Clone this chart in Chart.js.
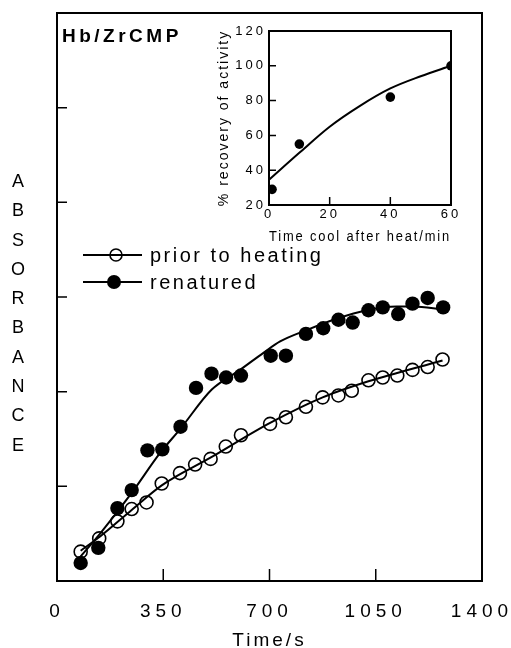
<!DOCTYPE html>
<html>
<head>
<meta charset="utf-8">
<script src="https://cdn.jsdelivr.net/npm/chart.js@4.4.1/dist/chart.umd.min.js"></script>
<style>
  html, body { margin: 0; padding: 0; background: #fff; }
  #wrap { position: relative; width: 511px; height: 648px; }
  #mainChart { position: absolute; left: 0; top: 0; }
  #insetChart { position: absolute; left: 200px; top: 12px; }
</style>
</head>
<body>
<div id="wrap">
  <canvas id="mainChart" width="511" height="648"></canvas>
  <canvas id="insetChart" width="260" height="240"></canvas>
</div>
<script>
// main panel: absorbance vs time (s)
const priorTime = [78, 139, 199, 246, 295, 345, 405, 455, 506, 556, 606, 702, 754, 820, 875, 927, 971, 1026, 1073, 1121, 1171, 1221, 1270];
const priorAbs = [0.31, 0.45, 0.63, 0.76, 0.83, 1.03, 1.14, 1.23, 1.29, 1.42, 1.54, 1.66, 1.73, 1.84, 1.94, 1.96, 2.01, 2.12, 2.15, 2.17, 2.23, 2.26, 2.34];
const renTime = [78, 136, 199, 246, 298, 347, 407, 458, 509, 557, 606, 704, 754, 820, 877, 927, 974, 1026, 1073, 1124, 1171, 1221, 1272];
const renAbs = [0.19, 0.35, 0.77, 0.96, 1.38, 1.39, 1.63, 2.04, 2.19, 2.15, 2.17, 2.38, 2.38, 2.61, 2.67, 2.76, 2.73, 2.86, 2.89, 2.82, 2.93, 2.99, 2.89];

// fitted curves
const priorFitTime = [78, 142, 246, 345, 504, 702, 875, 1026, 1270];
const priorFitAbs = [0.32, 0.47, 0.75, 1.01, 1.30, 1.67, 1.94, 2.11, 2.33];
const renFitTime = [78, 142, 246, 339, 407, 509, 603, 680, 735, 822, 921, 1020, 1119, 1174, 1272];
const renFitAbs = [0.26, 0.50, 0.93, 1.35, 1.61, 2.02, 2.23, 2.41, 2.53, 2.65, 2.77, 2.86, 2.90, 2.90, 2.87];

const xTicks = [0, 350, 700, 1050, 1400];
const yTitleLetters = ['A', 'B', 'S', 'O', 'R', 'B', 'A', 'N', 'C', 'E'];

// inset: % recovery vs cooling time (min)
const coolMin = [1, 10, 40, 60];
const recovery = [29, 55, 82, 100];
const coolFitMin = [0, 10, 20, 30, 40, 50, 60];
const recoveryFit = [34.5, 50, 65, 77, 87, 94, 100];

const FONT = "'Liberation Sans', Arial, sans-serif";
const toPoints = (xs, ys) => xs.map((x, i) => ({ x: x, y: ys[i] }));
const plainLabel = v => String(v);

// frame + inward tick marks + letter spacing for axis texts
const framePlugin = {
    id: 'frame',
    beforeDraw(chart, args, opts) {
        chart.ctx.letterSpacing = opts.titleSpacing;
    },
    afterDatasetsDraw(chart, args, opts) {
        chart.ctx.letterSpacing = opts.tickSpacing;
    },
    afterDraw(chart, args, opts) {
        const { ctx, chartArea: a, scales } = chart;
        ctx.save();
        ctx.letterSpacing = '0px';
        ctx.strokeStyle = '#000';
        ctx.lineWidth = 2;
        ctx.strokeRect(a.left, a.top, a.right - a.left, a.bottom - a.top);
        ctx.lineWidth = 1.5;
        ctx.beginPath();
        scales.x.ticks.forEach(t => {
            if (t.value <= scales.x.min || t.value >= scales.x.max) return;
            const px = scales.x.getPixelForValue(t.value);
            ctx.moveTo(px, a.bottom);
            ctx.lineTo(px, a.bottom - opts.xTickLen);
        });
        scales.y.ticks.forEach(t => {
            if (t.value <= scales.y.min || t.value >= scales.y.max) return;
            const py = scales.y.getPixelForValue(t.value);
            ctx.moveTo(a.left, py);
            ctx.lineTo(a.left + opts.yTickLen, py);
        });
        ctx.stroke();
        ctx.restore();
    }
};

// texts and legend of the main panel
const mainExtras = {
    id: 'mainExtras',
    afterDraw(chart) {
        const ctx = chart.ctx;
        ctx.save();
        ctx.fillStyle = '#000';
        ctx.strokeStyle = '#000';

        ctx.font = '18px ' + FONT;
        ctx.letterSpacing = '0px';
        ctx.textAlign = 'center';
        ctx.textBaseline = 'middle';
        yTitleLetters.forEach((ch, i) => ctx.fillText(ch, 18, 182 + i * 29.3));

        ctx.textAlign = 'left';
        ctx.textBaseline = 'alphabetic';
        ctx.font = 'bold 19px ' + FONT;
        ctx.letterSpacing = '3.5px';
        ctx.fillText('Hb/ZrCMP', 62, 42);

        const rows = [
            { text: 'prior to heating', y: 255, mx: 116, filled: false },
            { text: 'renatured', y: 282, mx: 114, filled: true }
        ];
        ctx.font = '20px ' + FONT;
        ctx.letterSpacing = '2.5px';
        rows.forEach(r => {
            ctx.lineWidth = 2;
            ctx.beginPath();
            ctx.moveTo(83, r.y);
            ctx.lineTo(142, r.y);
            ctx.stroke();
            ctx.beginPath();
            if (r.filled) {
                ctx.arc(r.mx, r.y, 7, 0, Math.PI * 2);
                ctx.fill();
            } else {
                ctx.lineWidth = 1.6;
                ctx.arc(r.mx, r.y, 6, 0, Math.PI * 2);
                ctx.stroke();
            }
            ctx.fillText(r.text, 150, r.y + 7);
        });
        ctx.restore();
    }
};

new Chart(document.getElementById('mainChart'), {
    type: 'scatter',
    data: {
        datasets: [
            {
                label: 'prior to heating',
                data: toPoints(priorTime, priorAbs),
                pointRadius: 6.5,
                pointBorderWidth: 1.6,
                pointBorderColor: '#000',
                pointBackgroundColor: 'rgba(0,0,0,0)',
                showLine: false
            },
            {
                label: 'renatured',
                data: toPoints(renTime, renAbs),
                pointRadius: 7.2,
                pointBorderWidth: 0,
                pointBackgroundColor: '#000',
                showLine: false
            },
            {
                label: 'prior fit',
                data: toPoints(priorFitTime, priorFitAbs),
                showLine: true,
                pointRadius: 0,
                borderColor: '#000',
                borderWidth: 2,
                cubicInterpolationMode: 'monotone'
            },
            {
                label: 'renatured fit',
                data: toPoints(renFitTime, renFitAbs),
                showLine: true,
                pointRadius: 0,
                borderColor: '#000',
                borderWidth: 2,
                cubicInterpolationMode: 'monotone'
            }
        ]
    },
    options: {
        responsive: false,
        animation: false,
        events: [],
        layout: { padding: { top: 13, right: 29, left: 0, bottom: 0 } },
        scales: {
            x: {
                type: 'linear',
                min: 0,
                max: 1400,
                afterBuildTicks: s => { s.ticks = xTicks.map(v => ({ value: v })); },
                grid: { display: false, drawTicks: false },
                border: { display: false },
                ticks: { callback: plainLabel, color: '#000', font: { family: FONT, size: 19 }, padding: 19, z: 1, maxRotation: 0, autoSkip: false },
                title: { display: true, text: 'Time/s', color: '#000', font: { family: FONT, size: 19, lineHeight: 0.8 }, padding: 0 },
                afterFit(s) { s.height = 67; s.paddingLeft = 0; s.paddingRight = 0; }
            },
            y: {
                type: 'linear',
                min: 0,
                max: 6,
                grid: { display: false, drawTicks: false },
                border: { display: false },
                ticks: { display: false, stepSize: 1 },
                afterFit(s) { s.width = 57; s.paddingTop = 0; s.paddingBottom = 0; }
            }
        },
        plugins: {
            legend: { display: false },
            tooltip: { enabled: false },
            frame: { titleSpacing: '3px', tickSpacing: '5px', xTickLen: 12, yTickLen: 10 }
        }
    },
    plugins: [framePlugin, mainExtras]
});

new Chart(document.getElementById('insetChart'), {
    type: 'scatter',
    data: {
        datasets: [
            {
                label: 'recovery',
                data: toPoints(coolMin, recovery),
                pointRadius: 4.8,
                pointBorderWidth: 0,
                pointBackgroundColor: '#000',
                showLine: false
            },
            {
                label: 'recovery fit',
                data: toPoints(coolFitMin, recoveryFit),
                showLine: true,
                pointRadius: 0,
                borderColor: '#000',
                borderWidth: 2,
                cubicInterpolationMode: 'monotone'
            }
        ]
    },
    options: {
        responsive: false,
        animation: false,
        events: [],
        layout: { padding: { top: 19, right: 9, left: 0, bottom: 0 } },
        scales: {
            x: {
                type: 'linear',
                min: 0,
                max: 60,
                grid: { display: false, drawTicks: false },
                border: { display: false },
                ticks: { stepSize: 20, callback: plainLabel, color: '#000', font: { family: FONT, size: 13 }, padding: 2, z: 1, maxRotation: 0, autoSkip: false },
                title: { display: true, text: 'Time cool after heat/min', color: '#000', font: { family: FONT, size: 14 }, padding: { top: 0, bottom: 6 } },
                afterFit(s) { s.height = 47; s.paddingLeft = 0; s.paddingRight = 0; }
            },
            y: {
                type: 'linear',
                min: 20,
                max: 120,
                grid: { display: false, drawTicks: false },
                border: { display: false },
                ticks: { stepSize: 20, callback: plainLabel, color: '#000', font: { family: FONT, size: 13 }, padding: 3, z: 1 },
                title: { display: true, text: '% recovery of activity', color: '#000', font: { family: FONT, size: 14 }, padding: { top: 16, bottom: 0 } },
                afterFit(s) { s.width = 69; s.paddingTop = 0; s.paddingBottom = 0; }
            }
        },
        plugins: {
            legend: { display: false },
            tooltip: { enabled: false },
            frame: { titleSpacing: '2px', tickSpacing: '3px', xTickLen: 8, yTickLen: 7 }
        }
    },
    plugins: [framePlugin]
});
</script>
</body>
</html>
